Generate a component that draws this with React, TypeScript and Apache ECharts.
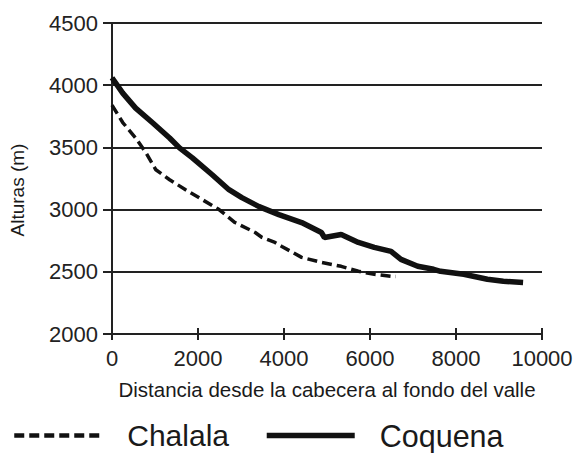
import React, { useEffect, useRef } from "react";
import * as echarts from "echarts";

const xTicks = [0, 2000, 4000, 6000, 8000, 10000];
const yTicks = [2000, 2500, 3000, 3500, 4000, 4500];

const chalalaX = [0, 250, 550, 790, 1020, 1340, 1710, 2100, 2490, 2860, 3330, 3490, 3790, 3950, 4410, 4870, 5330, 5730, 6100, 6490, 6600];
const chalalaY = [3840, 3700, 3576, 3456, 3320, 3240, 3160, 3080, 3000, 2896, 2816, 2776, 2736, 2704, 2616, 2576, 2544, 2504, 2480, 2464, 2462];

const coquenaX = [0, 250, 550, 950, 1340, 1570, 1870, 2330, 2720, 3020, 3420, 3880, 4410, 4870, 4940, 5330, 5730, 6100, 6490, 6720, 7110, 7480, 7640, 8180, 8730, 9100, 9560];
const coquenaY = [4060, 3936, 3816, 3696, 3576, 3496, 3416, 3280, 3160, 3096, 3024, 2960, 2896, 2816, 2776, 2800, 2736, 2696, 2664, 2600, 2544, 2520, 2504, 2480, 2440, 2424, 2414];

const seriesNames = ["Chalala", "Coquena"];

const zip = (xs: number[], ys: number[]) => xs.map((x, i) => [x, ys[i]]);

const FONT = "'Liberation Sans', Arial, sans-serif";

export default function App() {
  const ref = useRef<HTMLDivElement>(null);
  useEffect(() => {
    if (!ref.current) return;
    document.body.style.margin = "0";
    const chart = echarts.init(ref.current, undefined, { renderer: "svg" });
    chart.setOption({
      animation: false,
      backgroundColor: "#ffffff",
      textStyle: { fontFamily: FONT },
      grid: { left: 109, right: 34, top: 23, bottom: 119 },
      legend: {
        data: [
          {
            name: seriesNames[0],
            textStyle: { fontSize: 30, padding: [0, 0, 0, 20] },
            lineStyle: { width: 4.5, type: [10, 5], color: "#111" },
          },
          {
            name: seriesNames[1],
            textStyle: { fontSize: 30.5, padding: [0, 0, 0, 20] },
            lineStyle: { width: 5.5, type: "solid", color: "#111" },
          },
        ],
        left: 12,
        top: 420,
        padding: 0,
        itemWidth: 88,
        itemHeight: 4,
        itemGap: 35,
        itemStyle: { color: "rgba(0,0,0,0)", borderColor: "rgba(0,0,0,0)", borderWidth: 0 },
        textStyle: { fontSize: 30, color: "#1a1a1a", fontFamily: FONT },
      },
      xAxis: [
        {
          type: "value",
          min: xTicks[0],
          max: xTicks[xTicks.length - 1],
          interval: 2000,
          name: "Distancia desde la cabecera al fondo del valle",
          nameLocation: "middle",
          nameGap: 45,
          nameTextStyle: { fontSize: 20.5, color: "#1a1a1a", fontFamily: FONT },
          axisLine: { show: true, lineStyle: { color: "#222", width: 2 } },
          axisTick: { show: true, inside: false, length: 6, lineStyle: { color: "#222", width: 2 } },
          axisLabel: { fontSize: 22, color: "#222", margin: 13, fontFamily: FONT, formatter: (v: number) => String(v) },
          splitLine: { show: false },
        },
        {
          type: "value",
          position: "bottom",
          min: xTicks[0],
          max: xTicks[xTicks.length - 1],
          interval: 2000,
          axisLine: { show: false },
          axisTick: { show: true, inside: true, length: 6, lineStyle: { color: "#222", width: 2 } },
          axisLabel: { show: false },
          splitLine: { show: false },
        },
      ],
      yAxis: {
        type: "value",
        min: yTicks[0],
        max: yTicks[yTicks.length - 1],
        interval: 500,
        name: "Alturas (m)",
        nameLocation: "middle",
        nameGap: 85,
        nameTextStyle: { fontSize: 19, color: "#1a1a1a", fontFamily: FONT, padding: [0, 23, 0, 0] },
        axisLine: { show: true, lineStyle: { color: "#222", width: 2 } },
        axisTick: { show: true, length: 9, lineStyle: { color: "#222", width: 2 } },
        axisLabel: { fontSize: 22, color: "#222", margin: 14, fontFamily: FONT, formatter: (v: number) => String(v) },
        splitLine: { show: true, lineStyle: { color: "#222", width: 2 } },
      },
      series: [
        {
          name: seriesNames[0],
          type: "line",
          symbol: "none",
          data: zip(chalalaX, chalalaY),
          lineStyle: { color: "#111", width: 3.5, type: [10, 5] },
          itemStyle: { color: "#111" },
        },
        {
          name: seriesNames[1],
          type: "line",
          symbol: "none",
          data: zip(coquenaX, coquenaY),
          lineStyle: { color: "#111", width: 5.5, type: "solid" },
          itemStyle: { color: "#111" },
        },
      ],
    });
    return () => chart.dispose();
  }, []);
  return <div ref={ref} style={{ width: 576, height: 453 }} />;
}
